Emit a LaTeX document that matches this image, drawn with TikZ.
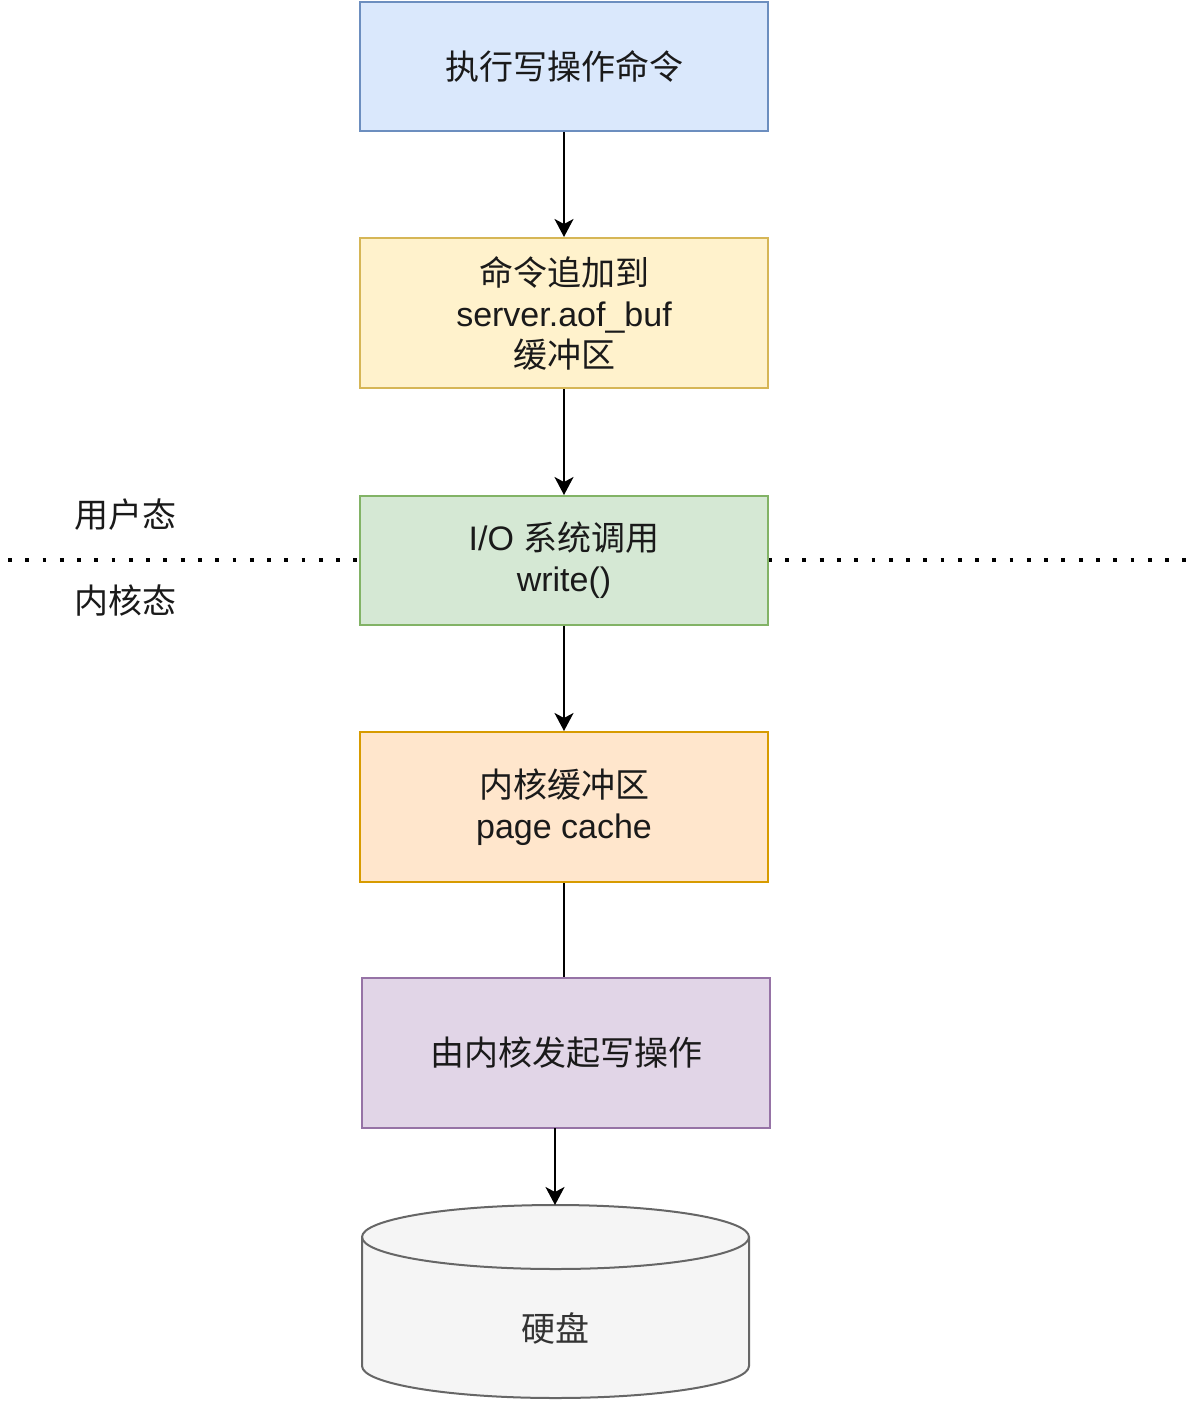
\documentclass[tikz,border=0pt]{standalone}
\usepackage{fontspec}
\setmainfont{Liberation Sans}
\newfontfamily\cjk{Noto Sans CJK SC}
\usetikzlibrary{arrows.meta}
\definecolor{bluefill}{HTML}{DAE8FC}\definecolor{blueline}{HTML}{6C8EBF}
\definecolor{yelfill}{HTML}{FFF2CC}\definecolor{yelline}{HTML}{D6B656}
\definecolor{grnfill}{HTML}{D5E8D4}\definecolor{grnline}{HTML}{82B366}
\definecolor{orgfill}{HTML}{FFE6CC}\definecolor{orgline}{HTML}{D79B00}
\definecolor{purfill}{HTML}{E1D5E7}\definecolor{purline}{HTML}{9673A6}
\definecolor{gryfill}{HTML}{F5F5F5}\definecolor{gryline}{HTML}{666666}
\definecolor{txt}{HTML}{1A1A1A}
\begin{document}
\begin{tikzpicture}[x=1pt,y=-1pt,
  every node/.style={font=\fontsize{34pt}{41pt}\selectfont, text=txt},
  flowbox/.style={draw, line width=2pt, minimum width=408pt, inner sep=0pt, align=center},
  conn/.style={line width=2pt, draw=black},
  arr/.style={conn, -{Stealth[length=18pt,width=19pt,inset=5pt]}},
  sep/.style={line width=3.8pt, dash pattern=on 3.8pt off 13.47pt, draw=black}]
\useasboundingbox (0,0) rectangle (1188,1404);
\fill[white] (0,0) rectangle (1188,1404);
% dotted separator
\coordinate (sepL) at (8,560);
\coordinate (sepR) at (1188,560);
\draw[sep] (sepL) -- (sepR);
\node (user) at (125,515) {\cjk 用户态};
\node (kern) at (125,601) {\cjk 内核态};
% boxes
\node[flowbox, fill=bluefill, draw=blueline, minimum height=129pt] (b1) at (564,66.5) {\cjk 执行写操作命令};
\node[flowbox, fill=yelfill, draw=yelline, minimum height=150pt] (b2) at (564,313) {{\cjk 命令追加到}\\server.aof\_buf\\{\cjk 缓冲区}};
\node[flowbox, fill=grnfill, draw=grnline, minimum height=129pt] (b3) at (564,560.5) {I/O {\cjk 系统调用}\\write()};
\node[flowbox, fill=orgfill, draw=orgline, minimum height=150pt] (b4) at (564,807) {{\cjk 内核缓冲区}\\page cache};
\node[flowbox, fill=purfill, draw=purline, minimum height=150pt] (b5) at (566,1053) {\cjk 由内核发起写操作};
% cylinder
\draw[line width=2pt, draw=gryline, fill=gryfill] (362,1237) -- (362,1366)
  arc[start angle=180, end angle=360, x radius=193.5pt, y radius=32pt]
  -- (749,1237)
  arc[start angle=0, end angle=180, x radius=193.5pt, y radius=32pt] -- cycle;
\draw[line width=2pt, draw=gryline] (362,1237)
  arc[start angle=180, end angle=360, x radius=193.5pt, y radius=32pt];
\node[text=black!80] (disk) at (555,1328) {\cjk 硬盘};
\coordinate (disktop) at (555,1205);
\coordinate (b5out) at (555,1128);
% connectors
\draw[arr] (b1.south) -- (b2.north);
\draw[arr] (b2.south) -- (b3.north);
\draw[arr] (b3.south) -- (b4.north);
\draw[conn] (b4.south) -- (b4.south |- b5.north);
\draw[arr] (b5out) -- (disktop);
\end{tikzpicture}
\end{document}
